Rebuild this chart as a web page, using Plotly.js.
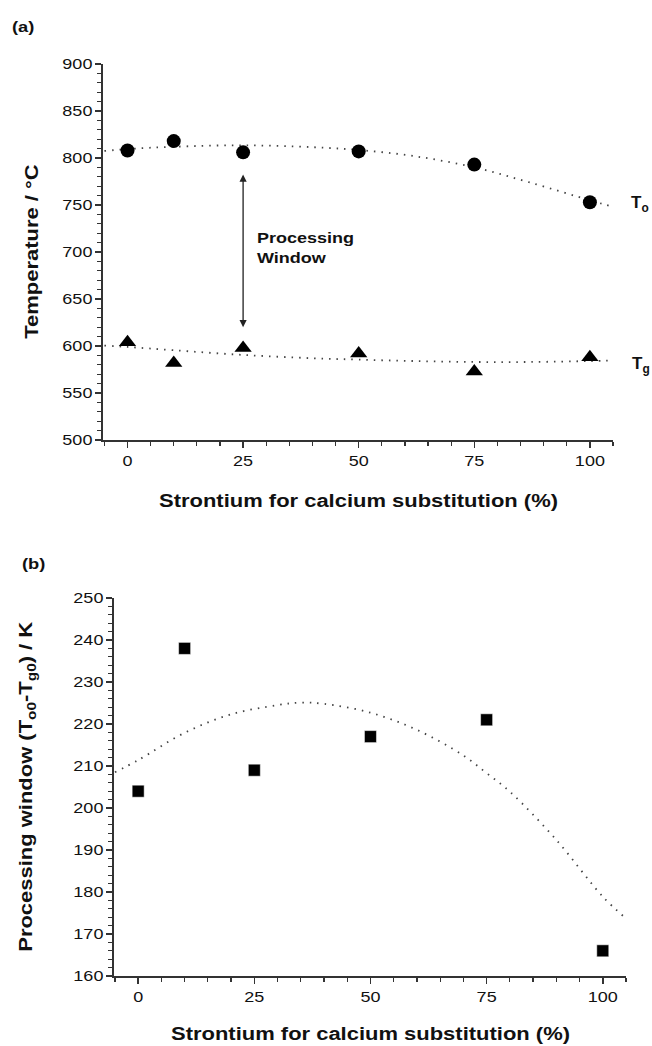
<!DOCTYPE html>
<html>
<head>
<meta charset="utf-8">
<script src="https://cdn.plot.ly/plotly-3.0.1.min.js"></script>
<style>
  html, body { margin: 0; padding: 0; background: #fff; }
  #chart { width: 652px; height: 1046px; }
</style>
</head>
<body>
<div id="chart"></div>
<script>
// ---- data ----
const substitution = [0, 10, 25, 50, 75, 100];           // Sr for Ca substitution (%)
const onsetTemp = [808, 818, 806, 807, 793, 753];        // T_o (°C)
const glassTemp = [604, 582, 598, 592, 573, 588];        // T_g (°C)
const processingWindow = [204, 238, 209, 217, 221, 166]; // T_o0 - T_g0 (K)

// fitted trend curves
const fitXTop = [-5, 0, 10, 25, 40, 50, 62, 75, 87, 100, 105];
const fitOnset = [807.5, 809.5, 812, 813.5, 811.5, 808.5, 802, 790, 774, 755, 748];
const fitGlass = [600.5, 599, 595.5, 590.5, 587, 585.5, 584, 583, 583, 584, 584.5];
const fitXBottom = [-5, 0, 10, 20, 30, 35, 40, 50, 60, 70, 75, 80, 90, 100, 105];
const fitWindow = [208.5, 211.4, 217.9, 222.3, 224.5, 225.1, 224.8, 222.7, 218.6, 212.5, 208.3, 203.9, 192.4, 178.9, 173.7];

const xTickVals = [0, 25, 50, 75, 100];

// ---- styling ----
const W = 652, H = 1046;
const FONT = 'Liberation Sans, Arial, Helvetica, sans-serif';
const AX = '#333333';
const TXT = '#111111';
const px = v => v / W;
const py = v => 1 - v / H;

const dotLine = { color: '#444', width: 1.8, dash: '1.5px,6px', shape: 'spline', smoothing: 1 };

// processing-window arrow spans between the two series at 25 %
const arrowIdx = 2;
const arrowTop = onsetTemp[arrowIdx] - 22;
const arrowBottom = glassTemp[arrowIdx] + 22;

const traces = [
  { x: fitXTop, y: fitOnset, xaxis: 'x', yaxis: 'y', mode: 'lines', line: dotLine, hoverinfo: 'skip' },
  { x: fitXTop, y: fitGlass, xaxis: 'x', yaxis: 'y', mode: 'lines', line: dotLine, hoverinfo: 'skip' },
  { x: substitution, y: onsetTemp, xaxis: 'x', yaxis: 'y', mode: 'markers', name: 'To',
    marker: { symbol: 'circle', size: 14, color: '#000' } },
  { x: substitution, y: glassTemp, xaxis: 'x', yaxis: 'y', mode: 'markers', name: 'Tg',
    marker: { symbol: 'triangle-up', size: 15, color: '#000' } },
  { x: fitXBottom, y: fitWindow, xaxis: 'x2', yaxis: 'y2', mode: 'lines', line: dotLine, hoverinfo: 'skip' },
  { x: substitution, y: processingWindow, xaxis: 'x2', yaxis: 'y2', mode: 'markers', name: 'window',
    marker: { symbol: 'square', size: 12, color: '#000', line: { color: '#fff', width: 0.5 } } }
];

function xAxis(domain, range, anchor) {
  return {
    domain, range, anchor,
    showline: true, linecolor: AX, linewidth: 1.6,
    ticks: 'outside', ticklen: 6, tickwidth: 1.5, tickcolor: AX,
    tickmode: 'array', tickvals: xTickVals,
    minor: { tickmode: 'linear', tick0: 0, dtick: 5, ticks: 'outside', ticklen: 4, tickwidth: 1.2, tickcolor: AX, showgrid: false },
    showgrid: false, zeroline: false, automargin: false,
    tickfont: { family: FONT, size: 15, color: TXT }
  };
}
function yAxis(domain, range, anchor, dtick, minorDtick) {
  return {
    domain, range, anchor,
    showline: true, linecolor: AX, linewidth: 1.6,
    ticks: 'outside', ticklen: 6, tickwidth: 1.5, tickcolor: AX,
    tickmode: 'linear', tick0: range[0], dtick,
    minor: { tickmode: 'linear', tick0: range[0], dtick: minorDtick, ticks: 'outside', ticklen: 4, tickwidth: 1.2, tickcolor: AX, showgrid: false },
    showgrid: false, zeroline: false, automargin: false,
    tickfont: { family: FONT, size: 15, color: TXT }
  };
}

const titleFont = { family: FONT, size: 18, color: TXT, weight: 'bold' };

const annotations = [
  { xref: 'paper', yref: 'paper', x: px(12), y: py(26), xanchor: 'left', yanchor: 'middle',
    text: '(a)', showarrow: false, font: { family: FONT, size: 15, color: TXT, weight: 'bold' } },
  { xref: 'paper', yref: 'paper', x: px(22), y: py(563), xanchor: 'left', yanchor: 'middle',
    text: '(b)', showarrow: false, font: { family: FONT, size: 15, color: TXT, weight: 'bold' } },
  { xref: 'paper', yref: 'paper', x: px(358), y: py(501), xanchor: 'center', yanchor: 'middle',
    text: 'Strontium for calcium substitution (%)', showarrow: false, font: titleFont },
  { xref: 'paper', yref: 'paper', x: px(370), y: py(1034), xanchor: 'center', yanchor: 'middle',
    text: 'Strontium for calcium substitution (%)', showarrow: false, font: titleFont },
  { xref: 'paper', yref: 'paper', x: px(32), y: py(252), xanchor: 'center', yanchor: 'middle', textangle: -90,
    text: 'Temperature / °C', showarrow: false, font: titleFont },
  { xref: 'paper', yref: 'paper', x: px(27), y: py(787), xanchor: 'center', yanchor: 'middle', textangle: -90,
    text: 'Processing window (T<sub>o0</sub>-T<sub>g0</sub>) / K', showarrow: false, font: titleFont },
  { xref: 'x', yref: 'y', x: substitution[arrowIdx], y: arrowBottom, axref: 'x', ayref: 'y',
    ax: substitution[arrowIdx], ay: arrowTop,
    text: '', showarrow: true, arrowside: 'end+start', arrowhead: 2, arrowsize: 1.1, arrowwidth: 1.3, arrowcolor: '#222' },
  { xref: 'x', yref: 'y', x: 27.5, y: 705, xanchor: 'left', yanchor: 'middle', align: 'left',
    text: 'Processing<br>Window', showarrow: false, font: { family: FONT, size: 15, color: TXT, weight: 'bold' } },
  { xref: 'paper', yref: 'y', x: px(629), y: 751, xanchor: 'left', yanchor: 'middle',
    text: 'T<sub>o</sub>', showarrow: false, font: { family: FONT, size: 17, color: TXT, weight: 'bold' } },
  { xref: 'paper', yref: 'y', x: px(630), y: 580, xanchor: 'left', yanchor: 'middle',
    text: 'T<sub>g</sub>', showarrow: false, font: { family: FONT, size: 17, color: TXT, weight: 'bold' } }
];

const layout = {
  width: W, height: H,
  margin: { l: 0, r: 0, t: 0, b: 0 },
  paper_bgcolor: '#fff', plot_bgcolor: '#fff',
  showlegend: false,
  font: { family: FONT, color: TXT },
  xaxis: xAxis([px(103), px(613)], [-5.3, 105], 'y'),
  yaxis: yAxis([py(440), py(64)], [500, 900], 'x', 50, 10),
  xaxis2: xAxis([px(114), px(626)], [-5.2, 105], 'y2'),
  yaxis2: yAxis([py(976), py(598)], [160, 250], 'x2', 10, 2),
  annotations
};

// the reference lettering is horizontally stretched; widen glyphs a little
function stretchEl(el, f) {
  let w = 0;
  try { w = el.getComputedTextLength(); } catch (e) { w = 0; }
  if (!w) return;
  el.setAttribute('lengthAdjust', 'spacingAndGlyphs');
  el.setAttribute('textLength', (w * f).toFixed(2));
}

const gd = document.getElementById('chart');
Plotly.newPlot(gd, traces, layout, { staticPlot: true, displayModeBar: false }).then(() => {
  gd.querySelectorAll('.xtick text, .ytick text, .x2tick text, .y2tick text').forEach(t => stretchEl(t, 1.2));
  gd.querySelectorAll('.annotation-text').forEach(t => {
    const txt = (t.textContent || '').replace(/\u200b/g, '');
    if (txt === 'To' || txt === 'Tg') return; // edge labels stay unstretched so they fit
    const lines = t.querySelectorAll('tspan.line');
    if (lines.length) lines.forEach(l => stretchEl(l, 1.2));
    else stretchEl(t, 1.22);
  });
});
</script>
</body>
</html>
